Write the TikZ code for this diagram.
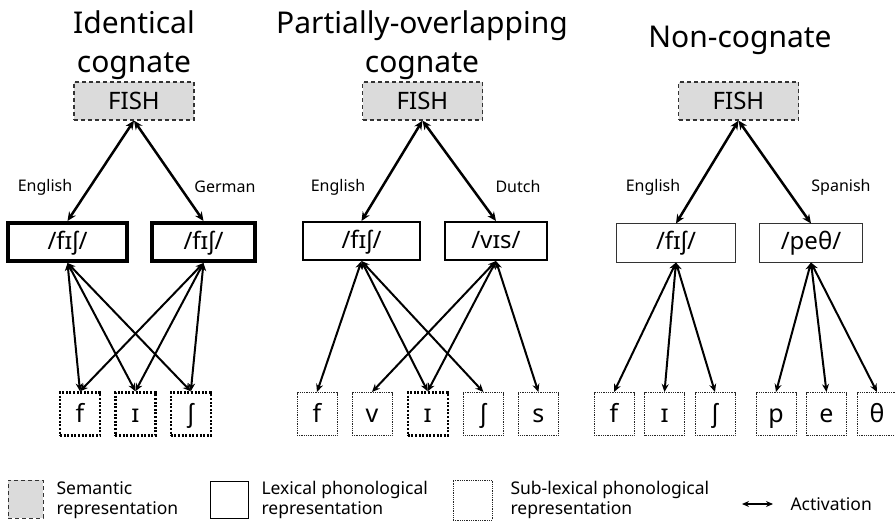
\documentclass[tikz,border=0pt]{standalone}
\usepackage{fontspec}
\setmainfont{Noto Sans}
\usetikzlibrary{positioning,arrows.meta}

\begin{document}
\begin{tikzpicture}[x=1pt, y=-1pt,
node distance = 13pt,
     S/.style = {draw=black!80, fill=black!14, line width=1.2pt, dash pattern=on 4pt off 3pt,
                 minimum width=120pt, minimum height=38pt, text height=20pt, text depth=2pt,
                 font=\fontsize{24}{24}\selectfont},
     L/.style = {draw, line width=2pt, minimum height=38pt, text height=19pt, text depth=5pt,
                 font=\fontsize{24}{24}\selectfont},
     P/.style = {draw=black!85, line width=1pt, dash pattern=on 1pt off 0.8pt,
                 minimum width=40pt, minimum height=43pt, inner sep=0pt,
                 text height=21pt, text depth=4pt, font=\fontsize{25}{25}\selectfont},
    PT/.style = {P, draw=black, line width=2.4pt, dash pattern=on 2pt off 1.6pt},
     T/.style = {font=\fontsize{30}{39}\selectfont, align=center},
  lang/.style = {font=\fontsize{16}{16}\selectfont},
   key/.style = {font=\fontsize{17.5}{19.5}\selectfont, align=left, anchor=west},
   act/.style = {{Stealth[length=9pt,width=8pt]}-{Stealth[length=9pt,width=8pt]}, line width=2.5pt},
   sub/.style = {{Stealth[length=8pt,width=7pt]}-{Stealth[length=8pt,width=7pt]}, line width=2pt}
                    ]
\useasboundingbox (0,0) rectangle (895,524);

% titles
\node (t1) [T] at (134,45) {Identical\\cognate};
\node (t2) [T] at (422,45) {Partially-overlapping\\cognate};
\node (t3) [T, anchor=base] at (740,48) {Non-cognate};

% semantic level
\node (s1) [S] at (134,101) {FISH};
\node (s2) [S] at (422.5,101) {FISH};
\node (s3) [S] at (738.5,101) {FISH};

% lexical level
\node (l1a) [L, line width=4pt, minimum width=119pt] at (67.5,242) {/fɪʃ/};
\node (l1b) [L, line width=4pt, minimum width=103pt] at (203.5,242) {/fɪʃ/};
\node (l2a) [L, minimum width=117pt] at (361.5,241) {/fɪʃ/};
\node (l2b) [L, minimum width=102pt] at (496,241) {/vɪs/};
\node (l3a) [L, line width=1pt, draw=black!80, minimum width=119pt] at (676,243) {/fɪʃ/};
\node (l3b) [L, line width=1pt, draw=black!80, minimum width=103pt] at (811,243) {/peθ/};

\node (e1) [lang] at (45,187)  {English};
\node (g1) [lang] at (225,187) {German};
\node (e2) [lang] at (338,187) {English};
\node (d2) [lang] at (518,187) {Dutch};
\node (e3) [lang] at (653,187) {English};
\node (n3) [lang] at (841,187) {Spanish};

% sub-lexical level
\node (p1f) [PT] at (80,414) {f};
\node (p1i) [PT, right=of p1f] {ɪ};
\node (p1s) [PT, right=of p1i] {ʃ};

\begin{scope}[node distance=14pt]
\node (p2f) [P] at (317,414) {f};
\node (p2v) [P, right=of p2f] {v};
\node (p2i) [PT, right=of p2v] {ɪ};
\node (p2s) [P, right=of p2i] {ʃ};
\node (p2z) [P, right=of p2s] {s};
\end{scope}

\begin{scope}[node distance=9.5pt]
\node (p3f) [P] at (614,414) {f};
\node (p3i) [P, right=of p3f] {ɪ};
\node (p3s) [P, right=of p3i] {ʃ};
\node (p3p) [P] at (776,414) {p};
\node (p3e) [P, right=of p3p] {e};
\node (p3t) [P, right=of p3e] {θ};
\end{scope}

% connectors
\draw   (s1.south) edge[act] (l1a.north)
        (s1.south) edge[act] (l1b.north)
        (s2.south) edge[act] (l2a.north)
        (s2.south) edge[act] (l2b.north)
        (s3.south) edge[act] (l3a.north)
        (s3.south) edge[act] (l3b.north);

\draw   (l1a.south) edge[sub] (p1f.north)
        (l1a.south) edge[sub] (p1i.north)
        (l1a.south) edge[sub] (p1s.north)
        (l1b.south) edge[sub] (p1f.north)
        (l1b.south) edge[sub] (p1i.north)
        (l1b.south) edge[sub] (p1s.north)

        (l2a.south) edge[sub] (p2f.north)
        (l2a.south) edge[sub] (p2i.north)
        (l2a.south) edge[sub] (p2s.north)
        (l2b.south) edge[sub] (p2v.north)
        (l2b.south) edge[sub] (p2i.north)
        (l2b.south) edge[sub] (p2z.north)

        (l3a.south) edge[sub] (p3f.north)
        (l3a.south) edge[sub] (p3i.north)
        (l3a.south) edge[sub] (p3s.north)
        (l3b.south) edge[sub] (p3p.north)
        (l3b.south) edge[sub] (p3e.north)
        (l3b.south) edge[sub] (p3t.north);

% legend
\node (k1) [S, minimum width=35pt, minimum height=38pt, line width=1pt] at (25.5,499) {};
\node (k1t) [key] at (53,500) {Semantic\\representation};
\node (k2) [draw, line width=1pt, minimum width=38pt, minimum height=37pt] at (229,499.5) {};
\node (k2t) [key] at (258,500) {Lexical phonological\\representation};
\node (k3) [P, minimum width=39pt, minimum height=40pt] at (472.5,500) {};
\node (k3t) [key] at (507,500) {Sub-lexical phonological\\representation};
\coordinate (a1) at (742,504);
\coordinate (a2) at (773,504);
\draw[{Stealth[length=7pt,width=6pt]}-{Stealth[length=7pt,width=6pt]}, line width=1.8pt] (a1) -- (a2);
\node (k4t) [key] at (787,504) {Activation};
\end{tikzpicture}
\end{document}
